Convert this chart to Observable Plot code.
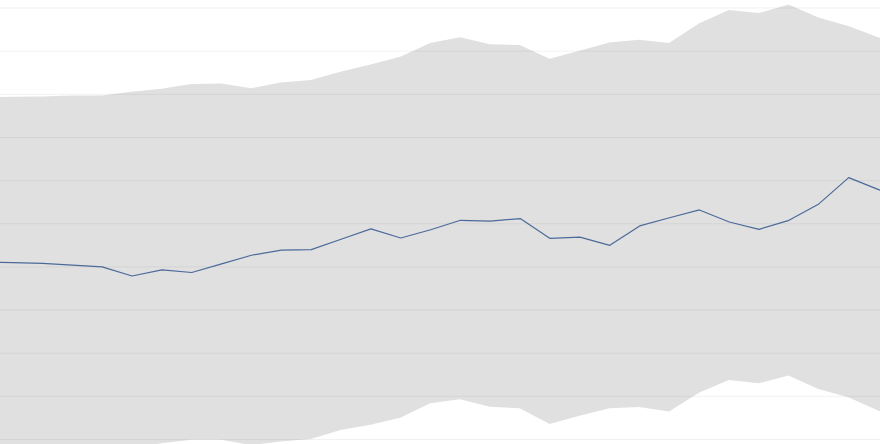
<!DOCTYPE html>
<html>
<head>
<meta charset="utf-8">
<script src="https://cdn.jsdelivr.net/npm/d3@7"></script>
<script src="https://cdn.jsdelivr.net/npm/@observablehq/plot@0.6"></script>
<style>
  html, body { margin: 0; padding: 0; background: #fff; overflow: hidden; }
  #chart svg { display: block; }
</style>
</head>
<body>
<div id="chart"></div>
<script>
const years = d3.range(1989, 2021);
const upper = [79.2, 79.3, 79.4, 79.6, 79.6, 80.5, 81.2, 82.3, 82.4, 81.3, 82.6, 83.2, 85.1, 86.8, 88.6, 91.8, 93.1, 91.5, 91.3, 88.1, 90.0, 91.9, 92.5, 91.8, 96.3, 99.4, 98.7, 100.7, 97.7, 95.7, 93.1, 90.4];
const mid = [41.1, 41.0, 40.8, 40.4, 40.0, 37.9, 39.3, 38.7, 40.7, 42.7, 43.9, 44.0, 46.4, 48.8, 46.7, 48.6, 50.8, 50.6, 51.2, 46.6, 46.9, 45.0, 49.5, 51.4, 53.2, 50.4, 48.7, 50.8, 54.6, 60.7, 57.9, 55.2];
const lower = [-4.6, -4.4, -4.2, -3.7, -3.2, -2.1, -1.0, -0.2, -0.2, -1.4, -0.6, 0.0, 2.1, 3.3, 4.9, 8.3, 9.2, 7.5, 7.1, 3.5, 5.4, 7.1, 7.4, 6.4, 10.7, 13.7, 12.9, 14.7, 11.6, 9.7, 6.6, 4.4];
const gridTicks = [0, 10, 20, 30, 40, 50, 60, 70, 80, 90, 100];

const data = years.map((year, i) => ({year, upper: upper[i], mid: mid[i], lower: lower[i]}));

const chart = Plot.plot({
  width: 880,
  height: 444,
  margin: 0,
  style: {background: "#fff"},
  x: {domain: [1989.595, 2019.065], axis: null},
  y: {domain: [-1.159, 101.74], axis: null},
  marks: [
    Plot.areaY(data, {x: "year", y1: "lower", y2: "upper", fill: "#e0e0e0", clip: true}),
    Plot.gridY(gridTicks, {stroke: "#000", strokeOpacity: 0.055}),
    Plot.lineY(data, {x: "year", y: "mid", stroke: "#4b6a99", strokeWidth: 1.2, clip: true})
  ]
});
document.getElementById("chart").appendChild(chart);
</script>
</body>
</html>
